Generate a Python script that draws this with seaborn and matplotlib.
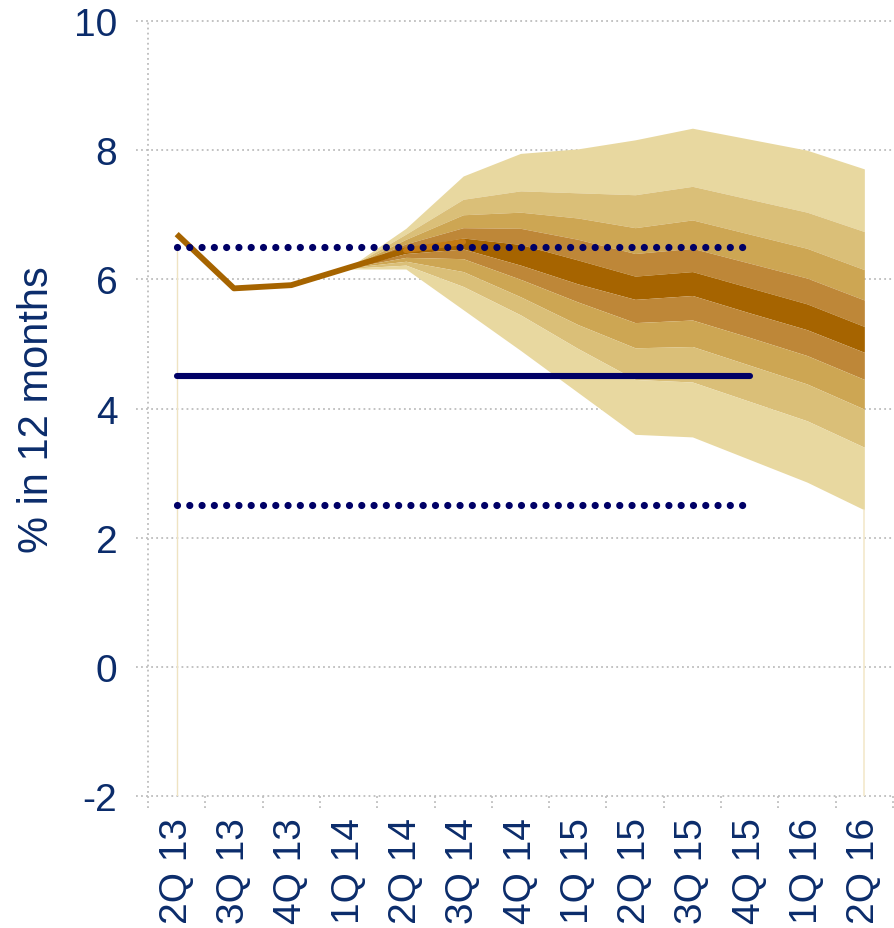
import numpy as np
import pandas as pd
import matplotlib
matplotlib.use("Agg")
import matplotlib.pyplot as plt
import matplotlib.transforms as mtrans
import seaborn as sns

# ---------------- data ----------------
quarters = ["2Q 13", "3Q 13", "4Q 13", "1Q 14", "2Q 14", "3Q 14", "4Q 14",
            "1Q 15", "2Q 15", "3Q 15", "4Q 15", "1Q 16", "2Q 16"]

# realised inflation (% in 12 months)
actual_q = ["2Q 13", "3Q 13", "4Q 13", "1Q 14", "2Q 14"]
actual_v = [6.70, 5.86, 5.91, 6.18, 6.45]
# central projection continuing from last observation
central_q = ["2Q 14", "3Q 14"]
central_v = [6.45, 6.58]

# fan chart band edges (top -> bottom), quarters 1Q 14 .. 2Q 16
fan_q = ["1Q 14", "2Q 14", "3Q 14", "4Q 14", "1Q 15", "2Q 15",
         "3Q 15", "4Q 15", "1Q 16", "2Q 16"]
edge_top = [6.18, 6.79, 7.60, 7.95, 8.02, 8.16, 8.34, 8.17, 8.00, 7.71]
edge_2 = [6.18, 6.70, 7.24, 7.37, 7.34, 7.31, 7.44, 7.24, 7.04, 6.74]
edge_3 = [6.18, 6.62, 7.00, 7.04, 6.95, 6.80, 6.92, 6.70, 6.48, 6.15]
edge_4 = [6.18, 6.55, 6.80, 6.79, 6.62, 6.40, 6.48, 6.25, 6.02, 5.68]
edge_5 = [6.18, 6.48, 6.64, 6.54, 6.30, 6.05, 6.12, 5.87, 5.62, 5.27]
edge_6 = [6.18, 6.40, 6.47, 6.22, 5.93, 5.69, 5.75, 5.48, 5.22, 4.87]
edge_7 = [6.18, 6.34, 6.32, 6.00, 5.65, 5.33, 5.37, 5.10, 4.82, 4.45]
edge_8 = [6.18, 6.28, 6.12, 5.73, 5.30, 4.94, 4.96, 4.67, 4.38, 3.99]
edge_9 = [6.17, 6.22, 5.89, 5.45, 4.93, 4.45, 4.41, 4.11, 3.81, 3.40]
edge_bottom = [6.16, 6.16, 5.53, 4.90, 4.25, 3.60, 3.56, 3.21, 2.86, 2.43]

# inflation target and tolerance interval
target_q = ["2Q 13", "4Q 15"]
target_center = [4.5, 4.5]
target_upper = [6.5, 6.5]
target_lower = [2.5, 2.5]

yticks = [-2, 0, 2, 4, 6, 8, 10]

# ---------------- style ----------------
sns.set_style("white")
plt.rcParams["font.family"] = ["Liberation Sans", "DejaVu Sans"]

navy_text = "#0B2C6B"
navy = "#000066"
brown = "#A66400"
orange = "#C47A12"
grid_c = "#BDBDBD"
band_colors = ["#E8D8A0", "#DABF78", "#CDA653", "#BE8738", "#A66400",
               "#BE8738", "#CDA653", "#DABF78", "#E8D8A0"]

pos = {q: i for i, q in enumerate(quarters)}

fig = plt.figure(figsize=(8.94, 9.29), dpi=100)
ax = fig.add_axes([148 / 894, 1 - 797 / 929, (893 - 148) / 894, (797 - 22) / 929])
ax.set_xlim(-0.5, len(quarters) - 0.5)
ax.set_ylim(-2, 10)
for s in ax.spines.values():
    s.set_visible(False)

# grid (dotted), extending slightly left of the axis
ytr = mtrans.blended_transform_factory(ax.transAxes, ax.transData)
for y in yticks:
    ax.plot([-0.016, 1.0], [y, y], transform=ytr, clip_on=False,
            color=grid_c, lw=1.3, linestyle=(0, (1, 1.8)), zorder=0)
xtr = mtrans.blended_transform_factory(ax.transData, ax.transAxes)
for k in range(len(quarters) + 1):
    top = 1.0 if k == 0 else 0.0
    ax.plot([k - 0.5, k - 0.5], [-0.015, top], transform=xtr, clip_on=False,
            color=grid_c, lw=1.3, linestyle=(0, (1, 1.8)), zorder=0)

# fan chart
fx = np.array([pos[q] for q in fan_q])
edges = [edge_top, edge_2, edge_3, edge_4, edge_5, edge_6, edge_7, edge_8,
         edge_9, edge_bottom]
for i, c in enumerate(band_colors):
    ax.fill_between(fx, edges[i + 1], edges[i], color=c, lw=0, zorder=1)

# thin stacked-area remnants at the ends
ax.plot([0, 0], [-2, target_upper[0]], color="#EFE3C2", lw=1, zorder=1)
ax.plot([fx[-1], fx[-1]], [-2, edge_bottom[-1]], color="#F3E9CC", lw=1.2, zorder=1)

# realised inflation
df_act = pd.DataFrame({"x": [pos[q] for q in actual_q], "y": actual_v})
sns.lineplot(data=df_act, x="x", y="y", ax=ax, color=brown, lw=4.2,
             solid_capstyle="butt", zorder=3)
df_cen = pd.DataFrame({"x": [pos[q] for q in central_q], "y": central_v})
sns.lineplot(data=df_cen, x="x", y="y", ax=ax, color=orange, lw=4.2,
             solid_capstyle="round", zorder=3)

# target and tolerance bands
tx = [pos[q] for q in target_q]
df_t = pd.DataFrame({"x": tx, "c": target_center, "u": target_upper, "l": target_lower})
sns.lineplot(data=df_t, x="x", y="c", ax=ax, color=navy, lw=4.4,
             solid_capstyle="round", zorder=4)
for col in ["u", "l"]:
    sns.lineplot(data=df_t, x="x", y=col, ax=ax, color=navy, lw=5.2,
                 linestyle=(0, (0.001, 1.70)), dash_capstyle="round", zorder=4)

# axes labels / ticks
ax.set_yticks(yticks)
ax.set_yticklabels([str(v) for v in yticks])
ax.set_xticks(range(len(quarters)))
ax.set_xticklabels(quarters, rotation=90)
ax.tick_params(axis="y", length=0, pad=22, labelsize=28, labelcolor=navy_text)
ax.tick_params(axis="x", length=0, pad=15, labelsize=28, labelcolor=navy_text)
ax.set_xlabel("")
ax.set_ylabel("% in 12 months", fontsize=30, color=navy_text)
ax.yaxis.set_label_coords(-0.122, 0.5)

fig.savefig("out.png", dpi=100)
